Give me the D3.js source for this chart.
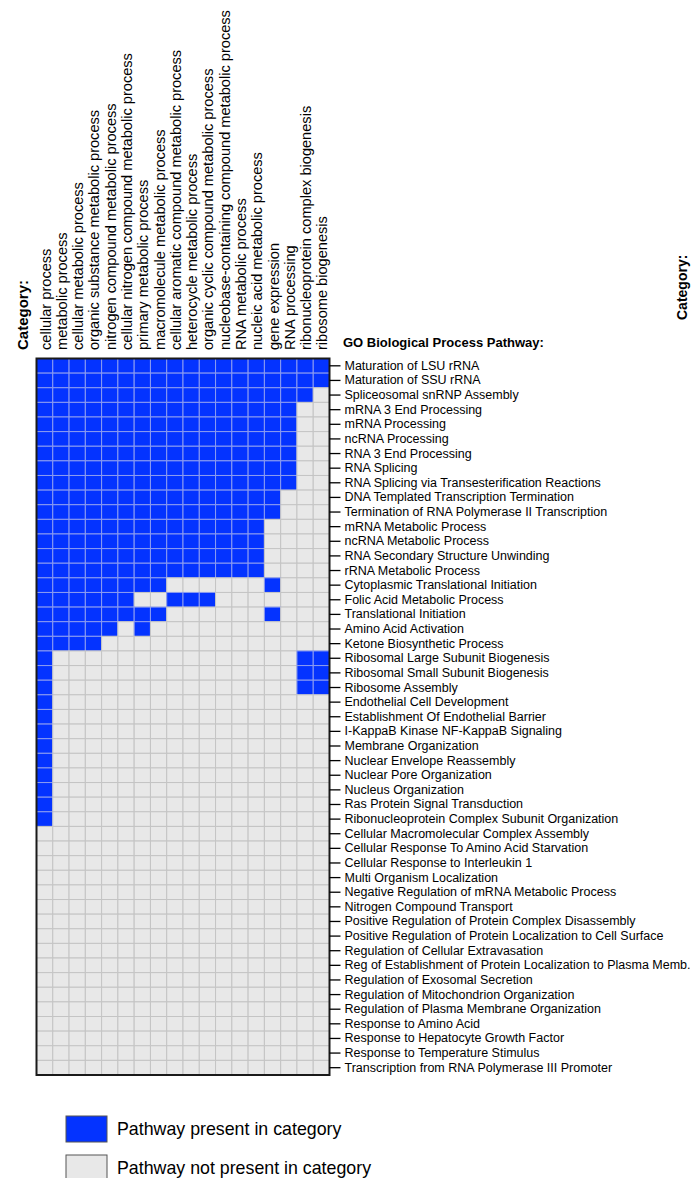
<!DOCTYPE html>
<html>
<head>
<meta charset="utf-8">
<script src="https://cdn.jsdelivr.net/npm/d3@7"></script>
<style>
  html, body { margin: 0; padding: 0; background: #fff; }
  svg { display: block; font-family: Arial, "Liberation Sans", sans-serif; }
</style>
</head>
<body>
<svg id="chart" width="691" height="1178"></svg>
<script>
const categories = [
  "cellular process",
  "metabolic process",
  "cellular metabolic process",
  "organic substance metabolic process",
  "nitrogen compound metabolic process",
  "cellular nitrogen compound metabolic process",
  "primary metabolic process",
  "macromolecule metabolic process",
  "cellular aromatic compound metabolic process",
  "heterocycle metabolic process",
  "organic cyclic compound metabolic process",
  "nucleobase-containing compound metabolic process",
  "RNA metabolic process",
  "nucleic acid metabolic process",
  "gene expression",
  "RNA processing",
  "ribonucleoprotein complex biogenesis",
  "ribosome biogenesis"
];

const pathways = [
  "Maturation of LSU rRNA",
  "Maturation of SSU rRNA",
  "Spliceosomal snRNP Assembly",
  "mRNA 3 End Processing",
  "mRNA Processing",
  "ncRNA Processing",
  "RNA 3 End Processing",
  "RNA Splicing",
  "RNA Splicing via Transesterification Reactions",
  "DNA Templated Transcription Termination",
  "Termination of RNA Polymerase II Transcription",
  "mRNA Metabolic Process",
  "ncRNA Metabolic Process",
  "RNA Secondary Structure Unwinding",
  "rRNA Metabolic Process",
  "Cytoplasmic Translational Initiation",
  "Folic Acid Metabolic Process",
  "Translational Initiation",
  "Amino Acid Activation",
  "Ketone Biosynthetic Process",
  "Ribosomal Large Subunit Biogenesis",
  "Ribosomal Small Subunit Biogenesis",
  "Ribosome Assembly",
  "Endothelial Cell Development",
  "Establishment Of Endothelial Barrier",
  "I-KappaB Kinase NF-KappaB Signaling",
  "Membrane Organization",
  "Nuclear Envelope Reassembly",
  "Nuclear Pore Organization",
  "Nucleus Organization",
  "Ras Protein Signal Transduction",
  "Ribonucleoprotein Complex Subunit Organization",
  "Cellular Macromolecular Complex Assembly",
  "Cellular Response To Amino Acid Starvation",
  "Cellular Response to Interleukin 1",
  "Multi Organism Localization",
  "Negative Regulation of mRNA Metabolic Process",
  "Nitrogen Compound Transport",
  "Positive Regulation of Protein Complex Disassembly",
  "Positive Regulation of Protein Localization to Cell Surface",
  "Regulation of Cellular Extravasation",
  "Reg of Establishment of Protein Localization to Plasma Memb.",
  "Regulation of Exosomal Secretion",
  "Regulation of Mitochondrion Organization",
  "Regulation of Plasma Membrane Organization",
  "Response to Amino Acid",
  "Response to Hepatocyte Growth Factor",
  "Response to Temperature Stimulus",
  "Transcription from RNA Polymerase III Promoter"
];

// presence of each pathway (row) in each category (column): 1 = present
const presence = [
  "111111111111111111",
  "111111111111111111",
  "111111111111111110",
  "111111111111111100",
  "111111111111111100",
  "111111111111111100",
  "111111111111111100",
  "111111111111111100",
  "111111111111111100",
  "111111111111111000",
  "111111111111111000",
  "111111111111110000",
  "111111111111110000",
  "111111111111110000",
  "111111111111110000",
  "111111110000001000",
  "111111001110000000",
  "111111110000001000",
  "111110100000000000",
  "111100000000000000",
  "100000000000000011",
  "100000000000000011",
  "100000000000000011",
  "100000000000000000",
  "100000000000000000",
  "100000000000000000",
  "100000000000000000",
  "100000000000000000",
  "100000000000000000",
  "100000000000000000",
  "100000000000000000",
  "100000000000000000",
  "000000000000000000",
  "000000000000000000",
  "000000000000000000",
  "000000000000000000",
  "000000000000000000",
  "000000000000000000",
  "000000000000000000",
  "000000000000000000",
  "000000000000000000",
  "000000000000000000",
  "000000000000000000",
  "000000000000000000",
  "000000000000000000",
  "000000000000000000",
  "000000000000000000",
  "000000000000000000",
  "000000000000000000"
];

const legendLabels = ["Pathway present in category", "Pathway not present in category"];
const axisTitles = { columns: "Category:", rows: "GO Biological Process Pathway:" };

const BLUE = "#0433FF";
const GREY = "#E8E8E8";

const svg = d3.select("#chart");
const grid = { left: 36.5, right: 329.5, top: 358.5, bottom: 1075 };

const x = d3.scaleBand().domain(categories).range([grid.left, grid.right]).paddingInner(0).paddingOuter(0);
const y = d3.scaleBand().domain(pathways).range([grid.top, grid.bottom]).paddingInner(0).paddingOuter(0);

const cells = [];
pathways.forEach((p, i) => {
  categories.forEach((c, j) => {
    cells.push({ p, c, v: presence[i][j] === "1" });
  });
});

// cells
svg.append("g").selectAll("rect").data(cells).join("rect")
  .attr("x", d => x(d.c))
  .attr("y", d => y(d.p))
  .attr("width", x.bandwidth())
  .attr("height", y.bandwidth())
  .attr("fill", d => d.v ? BLUE : GREY)
  .attr("stroke", d => d.v ? "#8C9CF0" : "#C4C4C4")
  .attr("stroke-width", 1);

// frame
svg.append("rect")
  .attr("x", grid.left).attr("y", grid.top)
  .attr("width", grid.right - grid.left).attr("height", grid.bottom - grid.top)
  .attr("fill", "none").attr("stroke", "#1a1a1a").attr("stroke-width", 2);

// right axis with row labels
const yAxis = d3.axisRight(y).tickSize(11).tickPadding(4);
const ga = svg.append("g").attr("transform", `translate(${grid.right},0)`).call(yAxis);
ga.select(".domain").remove();
ga.selectAll(".tick line").attr("stroke", "#000").attr("stroke-width", 1.3);
ga.selectAll(".tick text")
  .attr("fill", "#000")
  .style("font-size", "12.5px")
  .style("font-family", "Arial, 'Liberation Sans', sans-serif");

// column labels (rotated)
svg.append("g").selectAll("text").data(categories).join("text")
  .attr("transform", d => `translate(${x(d) + x.bandwidth() / 2 + 6},350) rotate(-90)`)
  .attr("text-anchor", "start")
  .style("font-size", "14.6px")
  .attr("fill", "#000")
  .text(d => d);

// titles
svg.append("text")
  .attr("transform", "translate(28,350) rotate(-90)")
  .style("font-size", "15px").style("font-weight", "bold")
  .text(axisTitles.columns);

svg.append("text")
  .attr("x", 343).attr("y", 347)
  .style("font-size", "13px").style("font-weight", "bold")
  .text(axisTitles.rows);

// title of neighbouring panel at right edge
svg.append("text")
  .attr("transform", "translate(687,320) rotate(-90)")
  .style("font-size", "14px").style("font-weight", "bold")
  .text(axisTitles.columns);

// legend
const legend = svg.append("g");
const legendColors = [BLUE, GREY];
const ly = d3.scalePoint().domain(legendLabels).range([1116, 1155]);
legend.selectAll("rect").data(legendLabels).join("rect")
  .attr("x", 66).attr("y", d => ly(d))
  .attr("width", 41).attr("height", 26)
  .attr("fill", (d, i) => legendColors[i])
  .attr("stroke", "#555").attr("stroke-width", 1);
legend.selectAll("text").data(legendLabels).join("text")
  .attr("x", 117).attr("y", d => ly(d) + 13)
  .attr("dy", "0.35em")
  .style("font-size", "17.8px")
  .text(d => d);
</script>
</body>
</html>
